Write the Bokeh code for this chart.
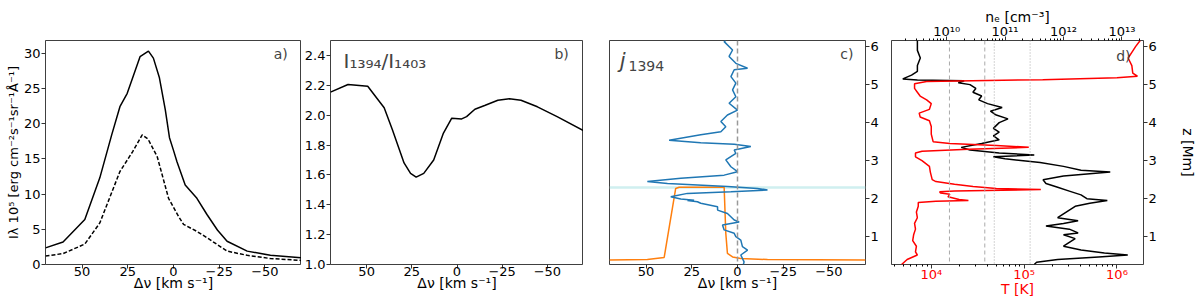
import numpy as np
from bokeh.plotting import figure
from bokeh.layouts import row
from bokeh.models import (Range1d, FixedTicker, CustomJSTickFormatter, LogAxis,
                          LogScale, Label, Span)
from bokeh.embed import file_html
from bokeh.resources import INLINE

FONT = "DejaVu Sans"

# ---------------- data ----------------
# panel a: line profiles
a_v_solid = [70.0, 60.4, 48.5, 40.3, 33.8, 29.3, 25.3, 18.3, 13.7, 11.0, 7.7, 4.5, 2.2, 0.0,
             -1.9, -6.4, -12.8, -18.3, -24.0, -29.3, -40.3, -53.0, -70.0]
a_I_solid = [2.36, 3.2, 6.4, 12.3, 18.4, 22.4, 24.3, 29.5, 30.3, 29.3, 26.5, 22.0, 18.0, 16.2,
             14.6, 11.3, 9.4, 7.1, 4.9, 3.3, 1.9, 1.3, 0.95]
a_v_dash = [70.0, 60.4, 48.5, 40.3, 29.3, 22.4, 17.1, 13.9, 8.9, 2.7, -2.8, -5.5, -12.8,
            -18.3, -29.3, -40.3, -53.0, -70.0]
a_I_dash = [1.2, 1.55, 2.9, 5.9, 13.2, 16.0, 18.4, 17.8, 15.3, 9.4, 6.8, 5.7, 4.7,
            3.8, 1.9, 1.3, 0.85, 0.57]

# panel b: ratio
b_v = [70.0, 60.3, 49.4, 40.3, 35.7, 29.3, 25.7, 22.6, 18.4, 12.9, 7.5, 2.9, -2.6, -5.3,
       -9.9, -15.3, -22.6, -29.0, -35.4, -44.5, -55.4, -70.0]
b_ratio = [2.154, 2.205, 2.194, 2.05, 1.90, 1.68, 1.61, 1.585, 1.61, 1.70, 1.88, 1.98, 1.975,
           1.99, 2.04, 2.065, 2.10, 2.11, 2.10, 2.056, 1.99, 1.897]

# panel c: emissivity peak (blue) and orange curve, versus height
c_z_blue = [6.16, 6.13, 5.91, 5.74, 5.56, 5.43, 5.39, 5.21, 5.04, 4.86,
            4.68, 4.51, 4.33, 4.20, 4.03, 3.89, 3.76, 3.68, 3.54, 3.47,
            3.43, 3.37, 3.28, 3.19, 3.02, 2.84, 2.71, 2.62, 2.54, 2.45,
            2.40, 2.32, 2.27, 2.23, 2.18, 2.14, 2.05, 1.99, 1.96, 1.95,
            1.92, 1.88, 1.79, 1.70, 1.61, 1.44, 1.39, 1.31, 1.18, 1.09,
            1.00, 0.91, 0.74, 0.65, 0.52, 0.34, 0.27]
c_v_blue = [6.5, 7.3, 2.7, 4.6, 0.9, -5.5, 1.8, 3.6, 0.9, 2.7,
            0.9, 4.6, 0.0, 5.5, 9.1, 6.4, 9.1, 20.1, 37.4, 20.1,
            1.8, -7.3, 1.8, 0.9, 6.4, 3.6, 0.0, 7.3, 31.0, 49.3,
            38.3, 5.5, -10.9, -16.4, 3.6, 27.4, 36.5, 31.0, 23.7, 27.4,
            21.9, 20.1, 10.9, 10.9, 5.5, 1.8, -0.9, 8.2, 7.3, 1.8,
            0.9, -1.8, -2.7, -5.5, -1.8, -3.6, -3.2]
c_v_orange = [70.0, 49.3, 40.1, 33.8, 31.9, 7.3, 6.4, 5.5, 2.7, -1.8, -16.4, -70.0]
c_z_orange = [0.386, 0.40, 0.456, 2.27, 2.30, 2.30, 1.09, 0.56, 0.47, 0.43, 0.40, 0.386]
c_band_z = [2.265, 2.325]

# panel d: temperature (red) and electron density (black) versus height
d_z_T = [0.27, 0.40, 0.52, 0.60, 0.75, 0.90, 1.05, 1.20, 1.35, 1.50,
         1.65, 1.80, 1.90, 1.93, 1.95, 1.98, 2.05, 2.12, 2.15, 2.18,
         2.20, 2.24, 2.27, 2.32, 2.38, 2.45, 2.50, 2.60, 2.70, 2.85,
         3.00, 3.10, 3.20, 3.25, 3.30, 3.35, 3.40, 3.45, 3.50, 3.70,
         3.90, 4.05, 4.15, 4.25, 4.35, 4.50, 4.60, 4.70, 4.80, 4.90,
         5.02, 5.08, 5.13, 5.18, 5.22, 5.30, 5.50, 5.70, 5.85, 6.00, 6.16]
d_logT = [3.68, 3.74, 3.85, 3.83, 3.84, 3.80, 3.81, 3.83, 3.82, 3.85,
          3.84, 3.86, 3.86, 4.05, 4.40, 4.30, 4.18, 4.20, 4.10, 4.09,
          4.25, 5.18, 4.70, 4.45, 4.25, 4.05, 4.01, 4.00, 3.99, 3.98,
          3.90, 3.83, 3.83, 3.90, 4.40, 5.05, 4.70, 4.20, 4.02, 4.00,
          4.00, 3.98, 3.88, 3.87, 3.98, 4.00, 3.95, 3.88, 3.85, 3.82,
          3.82, 3.95, 5.20, 6.00, 6.22, 6.17, 6.16, 6.12, 6.16, 6.20, 6.25]
d_z_ne = [0.27, 0.33, 0.40, 0.47, 0.52, 0.57, 0.65, 0.75, 0.85, 0.95,
          1.05, 1.10, 1.20, 1.28, 1.35, 1.42, 1.50, 1.60, 1.70, 1.80,
          1.88, 1.95, 2.00, 2.10, 2.20, 2.30, 2.40, 2.50, 2.60, 2.70,
          2.75, 2.85, 2.95, 3.05, 3.10, 3.15, 3.20, 3.28, 3.35, 3.45,
          3.55, 3.65, 3.75, 3.85, 4.00, 4.10, 4.20, 4.30, 4.40, 4.50,
          4.60, 4.70, 4.80, 4.90, 5.00, 5.05, 5.10, 5.12, 5.15, 5.25,
          5.35, 5.50, 5.70, 5.90, 6.16]
d_logne = [11.5, 11.54, 11.9, 12.6, 13.1, 12.7, 12.3, 12.0, 12.1, 12.2,
           12.0, 12.25, 12.1, 11.7, 12.0, 12.25, 11.9, 12.0, 12.1, 12.2,
           12.45, 12.75, 12.4, 12.3, 12.1, 11.9, 11.7, 11.65, 12.0, 12.8,
           12.3, 12.0, 11.6, 11.0, 10.8, 11.5, 10.9, 10.4, 10.25, 10.6,
           10.9, 10.8, 10.9, 10.8, 10.9, 11.05, 10.85, 10.75, 10.95, 10.7,
           10.55, 10.6, 10.45, 10.5, 10.4, 10.2, 10.3, 9.5, 9.25, 9.4,
           9.5, 9.5, 9.55, 9.5, 9.5]
d_T_dashed = [1.57e4, 3.77e4]
d_T_dotted = [4.77e4, 1.16e5]

# ticks
v_ticks = [50, 25, 0, -25, -50]
a_y_ticks = [0, 5, 10, 15, 20, 25, 30]
b_y_ticks = [1.0, 1.2, 1.4, 1.6, 1.8, 2.0, 2.2, 2.4]
z_ticks = [1, 2, 3, 4, 5, 6]
T_ticks = [1e4, 1e5, 1e6]
ne_ticks = [1e10, 1e11, 1e12, 1e13]

# ---------------- layout constants ----------------
H = 299
TOP = 40
BOT = 34
FS_TICK = "13px"
FS_LAB = "14px"
V_RANGE = (70, -70)
Z_RANGE = (0.27, 6.16)
XLAB = "Δν [km s⁻¹]"

minus_js = "return String(tick).replace('-', '\u2212');"
sup_js = """
const sup = {'0':'\u2070','1':'\u00b9','2':'\u00b2','3':'\u00b3','4':'\u2074','5':'\u2075',
             '6':'\u2076','7':'\u2077','8':'\u2078','9':'\u2079','-':'\u207b'};
const e = Math.round(Math.log10(tick));
return '10' + String(e).split('').map(c => sup[c]).join('');
"""


def minor_log(lo, hi):
    out = []
    for d in range(lo, hi + 1):
        for m in range(2, 10):
            out.append(m * 10.0 ** d)
    return out


def style(p):
    p.outline_line_color = "black"
    p.outline_line_alpha = 0.75
    p.outline_line_width = 1
    p.grid.visible = False
    p.background_fill_color = "white"
    p.border_fill_color = "white"
    for ax in p.axis:
        ax.axis_line_color = None
        ax.major_tick_out = 4
        ax.major_tick_in = 0
        ax.minor_tick_out = 0
        ax.minor_tick_in = 0
        ax.major_tick_line_color = "#333333"
        ax.major_label_text_font = FONT
        ax.major_label_text_font_size = FS_TICK
        ax.major_label_text_color = "black"
        ax.axis_label_text_font = FONT
        ax.axis_label_text_font_size = FS_LAB
        ax.axis_label_text_font_style = "normal"
        ax.axis_label_text_color = "black"
        ax.major_label_standoff = 1
        ax.axis_label_standoff = 0


def tighten(ax):
    ax.major_label_standoff = -2
    ax.axis_label_standoff = -4


def common(**kw):
    return figure(height=H, output_backend="svg", toolbar_location=None,
                  min_border_top=TOP, min_border_bottom=BOT, **kw)


# ---------------- panel a ----------------
pa = common(width=301, x_range=Range1d(*V_RANGE), y_range=Range1d(0, 31.8),
            min_border_left=45, min_border_right=0)
pa.line(a_v_solid, a_I_solid, line_color="black", line_width=1.5)
pa.line(a_v_dash, a_I_dash, line_color="black", line_width=1.5, line_dash="4 2")
style(pa)
pa.xaxis.ticker = FixedTicker(ticks=v_ticks)
pa.xaxis.formatter = CustomJSTickFormatter(code=minus_js)
pa.xaxis.axis_label = XLAB
tighten(pa.xaxis[0])
pa.yaxis.ticker = FixedTicker(ticks=a_y_ticks)
pa.yaxis.axis_label = "Iλ 10⁵ [erg cm⁻²s⁻¹sr⁻¹Å⁻¹]"
pa.yaxis.axis_label_text_font_size = "13px"
pa.add_layout(Label(x=-58.6, y=29.9, text="a)", text_font=FONT, text_font_size="14px",
                    text_align="center", text_baseline="middle"))

# ---------------- panel b ----------------
pb = common(width=282, x_range=Range1d(*V_RANGE), y_range=Range1d(1.0, 2.5),
            min_border_left=26, min_border_right=0)
pb.line(b_v, b_ratio, line_color="black", line_width=1.5)
style(pb)
pb.xaxis.ticker = FixedTicker(ticks=v_ticks)
pb.xaxis.formatter = CustomJSTickFormatter(code=minus_js)
pb.xaxis.axis_label = XLAB
tighten(pb.xaxis[0])
pb.yaxis.ticker = FixedTicker(ticks=b_y_ticks)
pb.yaxis.formatter = CustomJSTickFormatter(code="return tick.toFixed(1);")
pb.add_layout(Label(x=62.8, y=2.36, text="I₁₃₉₄/I₁₄₀₃", text_font=FONT,
                    text_font_size="20px", text_align="left", text_baseline="alphabetic"))
pb.add_layout(Label(x=-57.9, y=2.41, text="b)", text_font=FONT, text_font_size="14px",
                    text_align="center", text_baseline="middle"))

# ---------------- panel c ----------------
pc = common(width=305, x_range=Range1d(*V_RANGE), y_range=Range1d(*Z_RANGE),
            y_axis_location="right", min_border_left=26, min_border_right=23)
pc.quad(left=V_RANGE[0], right=V_RANGE[1], bottom=c_band_z[0], top=c_band_z[1],
        fill_color="#c4ebec", fill_alpha=0.8, line_color=None)
pc.add_layout(Span(location=0, dimension="height", line_color="#999999",
                   line_dash="5 3", line_width=1.5))
pc.line(c_v_orange, c_z_orange, line_color="#ff7f0e", line_width=1.5)
pc.line(c_v_blue, c_z_blue, line_color="#1f77b4", line_width=1.5)
style(pc)
pc.xaxis.ticker = FixedTicker(ticks=v_ticks)
pc.xaxis.formatter = CustomJSTickFormatter(code=minus_js)
pc.xaxis.axis_label = XLAB
tighten(pc.xaxis[0])
pc.yaxis.ticker = FixedTicker(ticks=z_ticks)
pc.add_layout(Label(x=64.4, y=5.62, text="j", text_font=FONT, text_font_style="italic",
                    text_font_size="21px", text_align="left", text_baseline="alphabetic"))
pc.add_layout(Label(x=59.6, y=5.49, text="1394", text_font=FONT,
                    text_font_size="14px", text_align="left", text_baseline="alphabetic"))
pc.add_layout(Label(x=-59.8, y=5.81, text="c)", text_font=FONT, text_font_size="14px",
                    text_align="center", text_baseline="middle"))

# ---------------- panel d ----------------
pdd = common(width=310, x_axis_type="log", x_range=Range1d(3.73e3, 1.93e6),
             y_range=Range1d(*Z_RANGE), y_axis_location="right",
             min_border_left=3, min_border_right=51)
pdd.extra_x_ranges = {"ne": Range1d(1.14e9, 2.34e13)}
pdd.extra_x_scales = {"ne": LogScale()}
top_ax = LogAxis(x_range_name="ne", axis_label="nₑ [cm⁻³]")
pdd.add_layout(top_ax, "above")
for t in d_T_dashed:
    pdd.add_layout(Span(location=t, dimension="height", line_color="#aaaaaa",
                        line_dash="4 3", line_width=1))
for t in d_T_dotted:
    pdd.add_layout(Span(location=t, dimension="height", line_color="#aaaaaa",
                        line_dash="1 2", line_width=1))
pdd.line(10 ** np.array(d_logne), d_z_ne, line_color="black", line_width=1.5,
         x_range_name="ne")
pdd.line(10 ** np.array(d_logT), d_z_T, line_color="red", line_width=1.5)
style(pdd)
bx = pdd.below[0]
bx.ticker = FixedTicker(ticks=T_ticks, minor_ticks=minor_log(3, 6))
bx.formatter = CustomJSTickFormatter(code=sup_js)
bx.major_label_text_color = "red"
bx.axis_label = "T [K]"
bx.axis_label_text_color = "red"
bx.minor_tick_out = 2
tighten(bx)
top_ax.ticker = FixedTicker(ticks=ne_ticks, minor_ticks=minor_log(9, 13))
top_ax.formatter = CustomJSTickFormatter(code=sup_js)
top_ax.minor_tick_out = 2
tighten(top_ax)
ry = pdd.right[0]
ry.ticker = FixedTicker(ticks=z_ticks)
ry.axis_label = "z [Mm]"
ry.axis_label_standoff = 20
pdd.add_layout(Label(x=1.17e6, y=5.76, text="d)", text_font=FONT, text_font_size="14px",
                     text_align="center", text_baseline="middle"))

layout = row(pa, pb, pc, pdd)
open("out.html", "w").write(file_html(layout, INLINE, title="chart"))
